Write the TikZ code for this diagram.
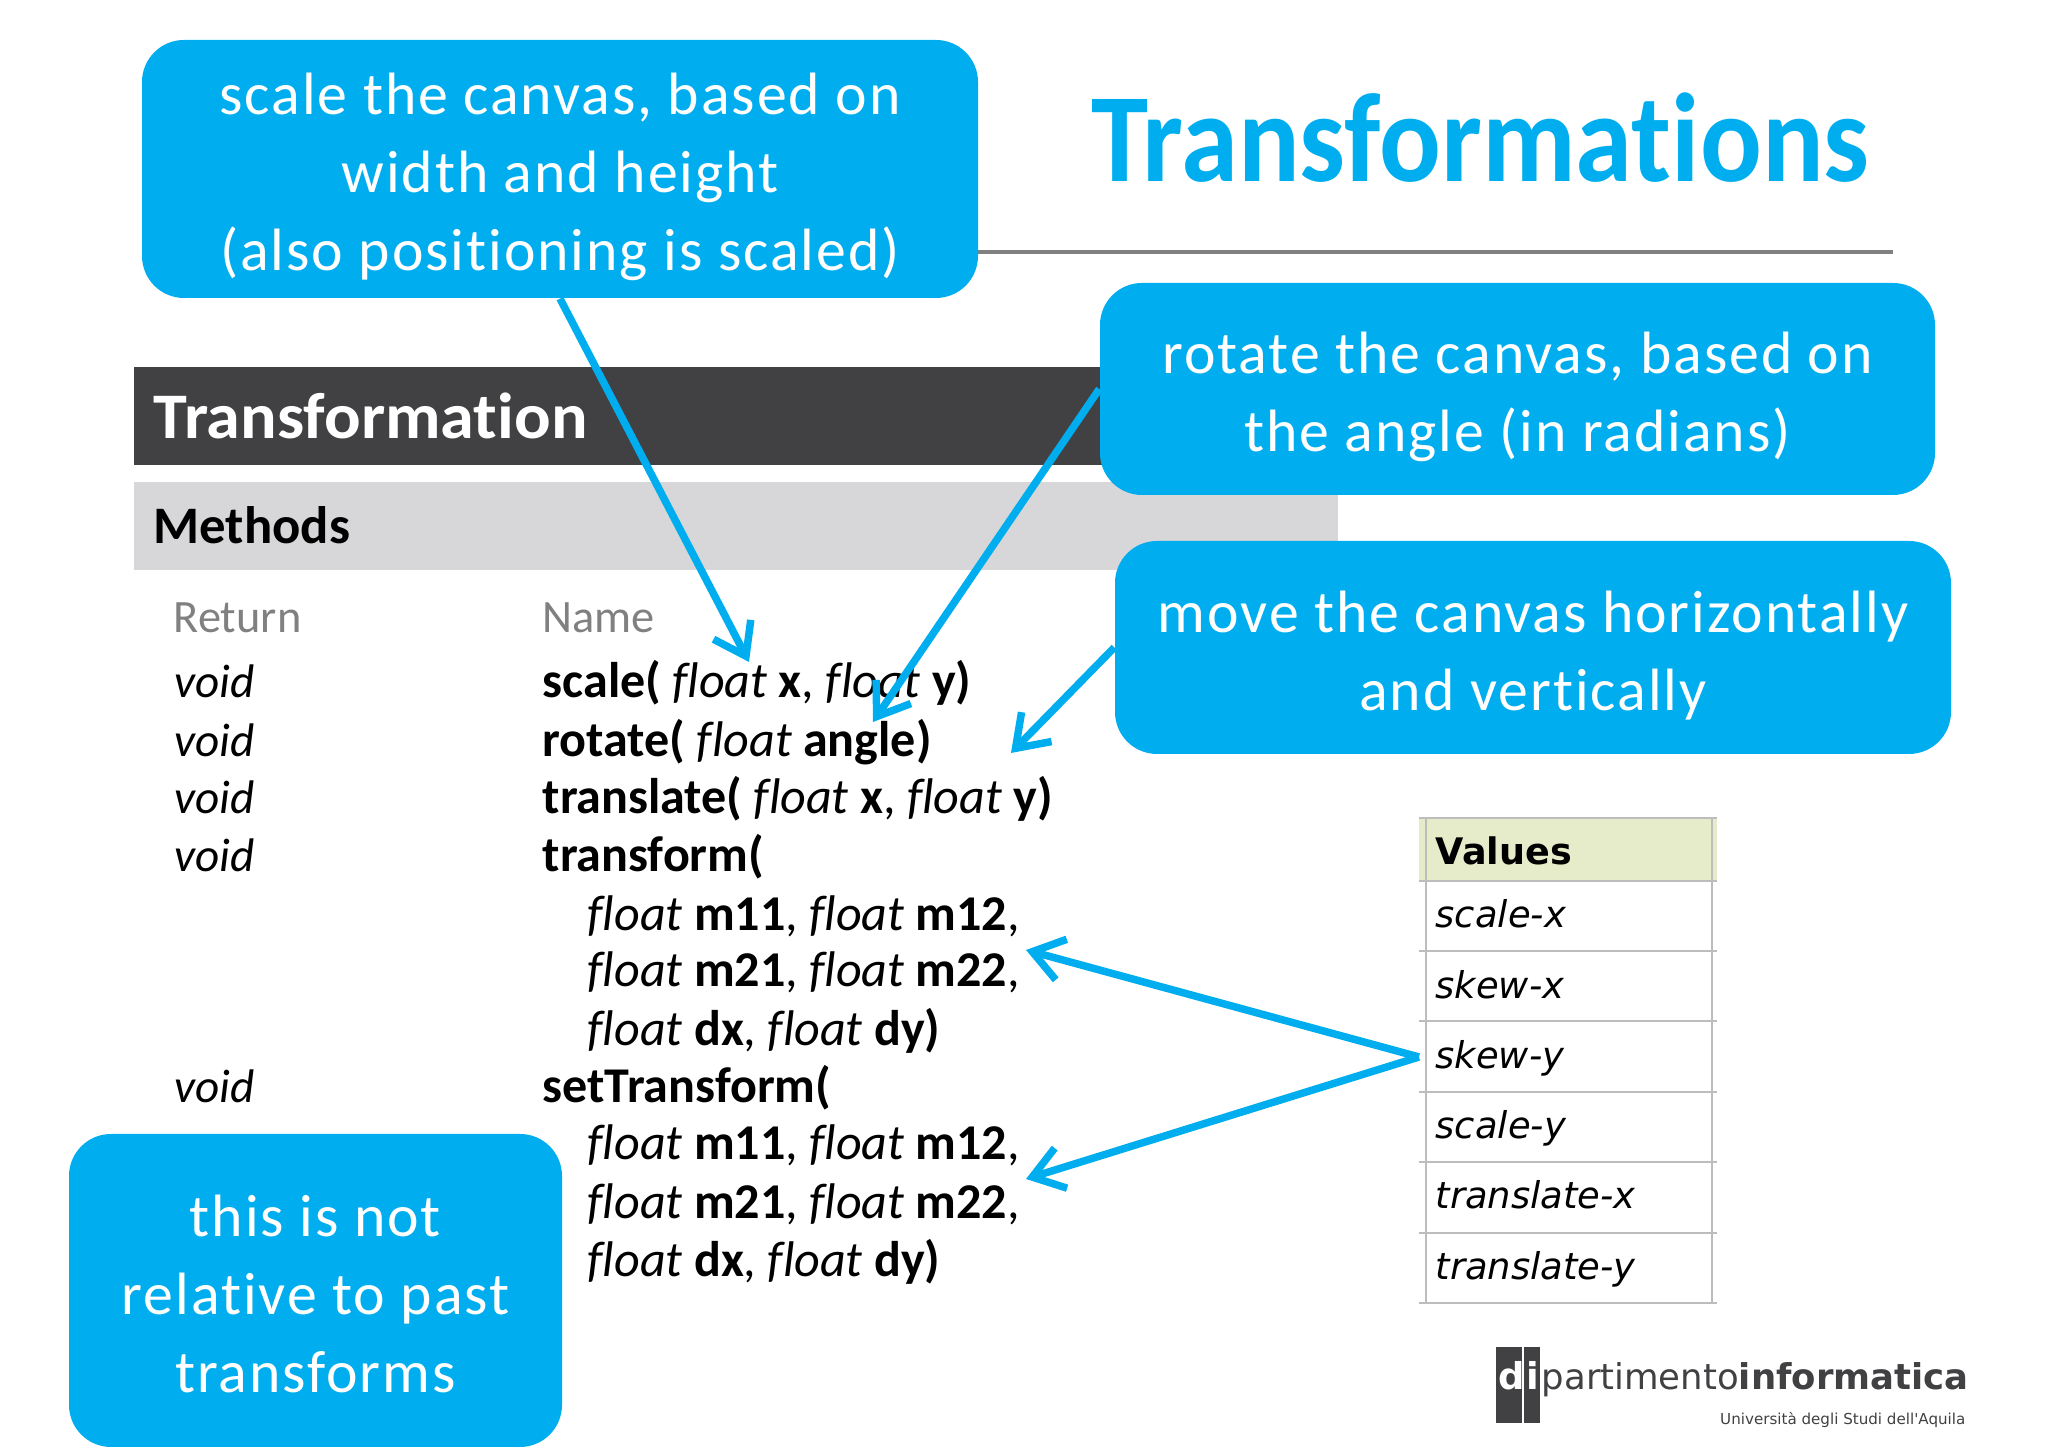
\documentclass[tikz,border=0pt]{standalone}
\usepackage{fontspec}
\usepackage{xcolor}
\usetikzlibrary{arrows.meta}
\setmainfont[Ligatures=NoCommon]{Carlito}
\newfontfamily\titlefont[FakeStretch=0.91,Ligatures=NoCommon]{Carlito}
\newfontfamily\callfont[LetterSpace=3.3,Ligatures=NoCommon]{Carlito}
\newfontfamily\barfont[FakeStretch=1.05,Ligatures=NoCommon]{Carlito}
\newfontfamily\tablefont{DejaVu Sans}

\definecolor{callblue}{HTML}{00AEEF}
\definecolor{darkbar}{HTML}{414042}
\definecolor{greybar}{HTML}{D7D6D8}
\definecolor{headfill}{HTML}{E6EBC9}
\definecolor{gridgrey}{HTML}{BDBDBD}

\newcommand{\fl}{\textit{float}}
\newcommand{\callstrut}{\rule{0pt}{16.2pt}}

\tikzset{
  callbox/.style={fill=callblue, text=white, rounded corners=0.42cm, align=center, inner sep=0pt,
    font=\callfont\fontsize{17}{22.2}\selectfont},
  rowtext/.style={anchor=base west, inner sep=0pt, font=\fontsize{14.25}{16}\selectfont},
  voidtext/.style={rowtext, font=\fontsize{13.4}{16}\selectfont\itshape},
  celltext/.style={anchor=base west, inner sep=0pt, font=\tablefont\fontsize{10.5}{12}\selectfont\itshape},
  callarrow/.style={draw=callblue, line width=0.075cm, ->},
  >={Straight Barb[length=0.3cm,width=0.42cm]}
}

\begin{document}
\begin{tikzpicture}
    \useasboundingbox (0,0) rectangle (20.48,14.47);

    % Title and rule
    \node[anchor=base west, inner sep=0pt, text=callblue, font=\titlefont\bfseries\fontsize{36}{40}\selectfont] (title) at (10.91,12.65) {Transformations};
    \draw[gray, line width=0.045cm] (9.7,11.95) -- (18.93,11.95);

    % Header bars
    \fill[darkbar] (1.34,9.82) rectangle (11.1,10.80);
    \fill[greybar] (1.34,8.77) rectangle (13.38,9.65);
    \node[rowtext, text=white, font=\barfont\bfseries\fontsize{18.5}{20}\selectfont] (barhead) at (1.53,10.08) {Transformation};
    \node[rowtext, font=\bfseries\fontsize{15}{16}\selectfont] (methods) at (1.53,9.03) {Methods};

    % Method rows
    \node[rowtext, text=gray, font=\fontsize{13.2}{16}\selectfont] (returnhead) at (1.73,8.14) {Return};
    \node[rowtext, text=gray, font=\fontsize{13.2}{16}\selectfont] (namehead) at (5.42,8.14) {Name};

    \node[voidtext] (voidscale) at (1.74,7.49) {void};
    \node[voidtext] (voidrotate) at (1.74,6.905) {void};
    \node[voidtext] (voidtranslate) at (1.74,6.33) {void};
    \node[voidtext] (voidtransform) at (1.74,5.75) {void};
    \node[voidtext] (voidset) at (1.74,3.44) {void};

    \node[rowtext] (scalerow) at (5.42,7.49) {\textbf{scale(} \fl{} \textbf{x}, \fl{} \textbf{y)}};
    \node[rowtext] (rotaterow) at (5.42,6.905) {\textbf{rotate(} \fl{} \textbf{angle)}};
    \node[rowtext] (translaterow) at (5.42,6.33) {\textbf{translate(} \fl{} \textbf{x}, \fl{} \textbf{y)}};
    \node[rowtext] (transformrow) at (5.42,5.75) {\textbf{transform(}};
    \node[rowtext] (transforma) at (5.87,5.16) {\fl{} \textbf{m11}, \fl{} \textbf{m12},};
    \node[rowtext] (transformb) at (5.87,4.60) {\fl{} \textbf{m21}, \fl{} \textbf{m22},};
    \node[rowtext] (transformc) at (5.87,4.01) {\fl{} \textbf{dx}, \fl{} \textbf{dy)}};
    \node[rowtext] (setrow) at (5.42,3.44) {\textbf{setTransform(}};
    \node[rowtext] (seta) at (5.87,2.87) {\fl{} \textbf{m11}, \fl{} \textbf{m12},};
    \node[rowtext] (setb) at (5.87,2.28) {\fl{} \textbf{m21}, \fl{} \textbf{m22},};
    \node[rowtext] (setc) at (5.87,1.70) {\fl{} \textbf{dx}, \fl{} \textbf{dy)}};

    % Values table
    \fill[headfill] (14.19,5.66) rectangle (17.17,6.29);
    \draw[gridgrey, line width=0.02cm] (14.19,6.29) -- (17.17,6.29);
    \draw[gridgrey, line width=0.02cm] (14.19,5.66) -- (17.17,5.66);
    \draw[gridgrey, line width=0.02cm] (14.19,4.955) -- (17.17,4.955);
    \draw[gridgrey, line width=0.02cm] (14.19,4.26) -- (17.17,4.26);
    \draw[gridgrey, line width=0.02cm] (14.19,3.55) -- (17.17,3.55);
    \draw[gridgrey, line width=0.02cm] (14.19,2.85) -- (17.17,2.85);
    \draw[gridgrey, line width=0.02cm] (14.19,2.14) -- (17.17,2.14);
    \draw[gridgrey, line width=0.02cm] (14.19,1.44) -- (17.17,1.44);
    \draw[gridgrey, line width=0.02cm] (14.26,6.29) -- (14.26,1.44);
    \draw[gridgrey, line width=0.02cm] (17.12,6.29) -- (17.12,1.44);
    \node[celltext, font=\tablefont\bfseries\fontsize{10.4}{12}\selectfont] (valueshead) at (14.35,5.82) {Values};
    \node[celltext] (scalex) at (14.35,5.19) {scale-x};
    \node[celltext] (skewx) at (14.35,4.48) {skew-x};
    \node[celltext] (skewy) at (14.35,3.78) {skew-y};
    \node[celltext] (scaley) at (14.35,3.08) {scale-y};
    \node[celltext] (translatex) at (14.35,2.38) {translate-x};
    \node[celltext] (translatey) at (14.35,1.67) {translate-y};

    % Logo
    \fill[darkbar] (14.96,0.244) rectangle (15.22,1.00);
    \fill[darkbar] (15.24,0.244) rectangle (15.40,1.00);
    \node[rowtext, text=white, font=\tablefont\bfseries\fontsize{10.5}{11}\selectfont] (logod) at (14.98,0.57) {d};
    \node[rowtext, text=white, font=\tablefont\bfseries\fontsize{10.5}{11}\selectfont] (logoi) at (15.26,0.57) {i};
    \node[rowtext, text=darkbar, font=\tablefont\fontsize{10.1}{11}\selectfont] (logoname) at (15.41,0.57) {partimento\textbf{informatica}};
    \node[anchor=base east, inner sep=0pt, text=darkbar, font=\tablefont\fontsize{4.3}{5}\selectfont] (logouni) at (19.66,0.22) {Università degli Studi dell'Aquila};

    % Callouts
    \node[callbox, minimum width=8.36cm, minimum height=2.58cm] (scalebox) at (5.60,12.78) {\callstrut scale the canvas, based on\\width and height\\(also positioning is scaled)};
    \node[callbox, minimum width=8.35cm, minimum height=2.12cm] (rotatebox) at (15.175,10.58) {\callstrut rotate the canvas, based on\\the angle (in radians)};
    \node[callbox, minimum width=8.36cm, minimum height=2.13cm] (movebox) at (15.33,7.995) {\callstrut move the canvas horizontally\\and vertically};
    \node[callbox, minimum width=4.93cm, minimum height=3.13cm] (notebox) at (3.155,1.565) {\rule{0pt}{13.6pt}this is not\\relative to past\\transforms};

    % Arrows
    \coordinate (scaletip) at (7.49,7.85);
    \coordinate (rotatetip) at (8.73,7.25);
    \coordinate (movetip) at (10.11,6.94);
    \coordinate (transformtip) at (10.26,4.97);
    \coordinate (settip) at (10.26,2.68);
    \coordinate (skewout) at (14.19,3.90);
    \draw[callarrow] (scalebox.south) -- (scaletip);
    \draw[callarrow] (rotatebox.west) -- (rotatetip);
    \draw[callarrow] (movebox.west) -- (movetip);
    \draw[callarrow] (skewout) -- (transformtip);
    \draw[callarrow] (skewout) -- (settip);
\end{tikzpicture}
\end{document}
